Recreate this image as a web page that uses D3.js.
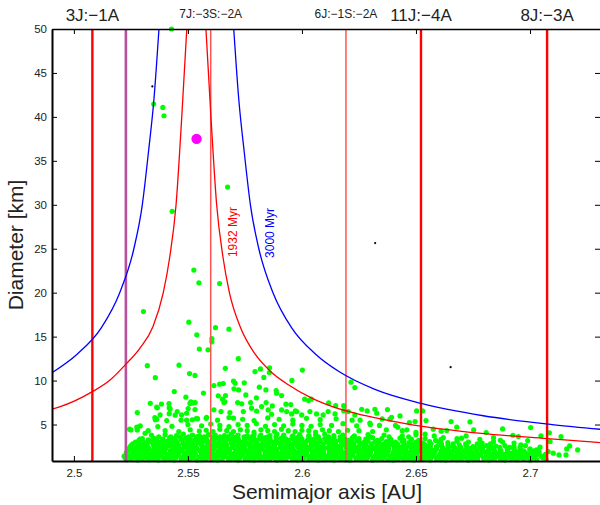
<!DOCTYPE html>
<html>
<head>
<meta charset="utf-8">
<script src="https://cdn.jsdelivr.net/npm/d3@7"></script>
<style>
  body { margin: 0; background: #fff; }
  text { font-family: "Liberation Sans", Arial, Helvetica, sans-serif; }
</style>
</head>
<body>
<svg id="chart" width="600" height="505"></svg>
<script>
// axis ticks
const xTicks = [2.5, 2.55, 2.6, 2.65, 2.7];
const yTicks = [5, 10, 15, 20, 25, 30, 35, 40, 45, 50];

// mean motion resonances (semimajor axis in AU)
const resonanceNames = ["3J:\u22121A", "", "7J:\u22123S:\u22122A", "6J:\u22121S:\u22122A", "11J:\u22124A", "8J:\u22123A"];
const resonanceA = [2.5081, 2.5228, 2.5600, 2.6193, 2.6522, 2.7075];
const resonanceKind = ["strong", "other", "weak", "weak", "strong", "strong"];

// V-shape curves [a, D], one array per branch
const vLeft1932 = [[2.4904, 6.74], [2.4937, 7.0], [2.5079, 8.71], [2.5160, 10.1], [2.5228, 11.87], [2.5290, 13.7], [2.5347, 16.15], [2.5392, 20.0], [2.5420, 24.0], [2.5448, 30.0], [2.5473, 40.0], [2.5495, 50.0]];
const vRight1932 = [[2.5579, 50], [2.5601, 40], [2.5626, 30], [2.5654, 24], [2.5682, 20], [2.5731, 16], [2.5795, 13], [2.5860, 11.1], [2.5942, 9.5], [2.6043, 8.0], [2.6137, 7.0], [2.6279, 6.0], [2.6477, 5.0], [2.6787, 4.0], [2.7077, 3.4], [2.7307, 2.95]];
const vLeft3000 = [[2.4904, 10.9], [2.5014, 13.0], [2.5120, 16.0], [2.5201, 20.0], [2.5263, 25.0], [2.5300, 30.0], [2.5327, 36.0], [2.5351, 42.0], [2.5373, 50.0]];
const vRight3000 = [[2.5701, 50], [2.5723, 42], [2.5747, 36], [2.5774, 30], [2.5811, 25], [2.5873, 20], [2.5955, 16], [2.6060, 13], [2.6164, 11], [2.6320, 9], [2.6523, 7.4], [2.6795, 6], [2.7097, 5], [2.7312, 4.45]];
const ageLabels = ["1932 Myr", "3000 Myr"];
const ageLabelAt = [[2.5715, 26.9], [2.5877, 26.8]];

// family members [a, D]: dense core, halo, large members
const familyCore = [
  [2.523,1.0],[2.525,1.1],[2.528,0.95],[2.530,1.05],[2.533,1.0],[2.535,1.1],[2.537,0.95],[2.540,1.0],[2.542,1.1],[2.544,0.95],[2.547,1.05],[2.549,1.0],[2.551,1.1],[2.554,0.95],[2.556,1.0],[2.558,1.1],[2.561,1.0],[2.563,0.95],[2.565,1.1],[2.568,1.0],[2.570,1.05],[2.572,0.95],[2.575,1.1],[2.577,1.0],[2.579,0.95],[2.582,1.05],[2.584,1.0],[2.586,1.1],[2.589,0.95],[2.591,1.0],[2.593,1.1],[2.596,1.0],[2.598,0.95],[2.600,1.05],[2.603,1.0],[2.605,1.1],[2.607,0.95],[2.610,1.0],[2.612,1.05],[2.614,0.95],[2.617,1.1],[2.619,1.0],[2.621,0.95],[2.624,1.05],[2.626,1.0],[2.628,1.1],[2.631,0.95],[2.633,1.0],[2.635,1.1],[2.638,1.0],[2.640,0.95],[2.642,1.05],[2.645,1.0],[2.647,1.1],[2.649,0.95],[2.652,1.0],[2.654,1.05],[2.656,0.95],[2.659,1.1],[2.661,1.0],[2.663,0.95],[2.666,1.05],[2.668,1.0],[2.670,1.1],[2.673,0.95],[2.675,1.0],[2.677,1.05],[2.680,1.0],[2.682,0.95],[2.684,1.1],[2.687,1.0],[2.689,0.95],[2.692,1.05],[2.694,1.0],[2.697,1.1],[2.700,0.95],[2.703,1.0],[2.707,1.05],
  [2.522,1.4],[2.524,1.35],[2.527,1.45],[2.529,1.3],[2.531,1.4],[2.534,1.5],[2.536,1.35],[2.538,1.4],[2.541,1.3],[2.543,1.45],[2.545,1.4],[2.548,1.35],[2.550,1.5],[2.552,1.4],[2.555,1.3],[2.557,1.45],[2.559,1.4],[2.562,1.35],[2.564,1.5],[2.566,1.4],[2.569,1.3],[2.571,1.45],[2.573,1.4],[2.576,1.35],[2.578,1.5],[2.580,1.4],[2.583,1.3],[2.585,1.45],[2.587,1.35],[2.590,1.4],[2.592,1.5],[2.594,1.35],[2.597,1.4],[2.599,1.3],[2.601,1.45],[2.604,1.4],[2.606,1.35],[2.608,1.5],[2.611,1.4],[2.613,1.3],[2.615,1.45],[2.618,1.4],[2.620,1.35],[2.622,1.5],[2.625,1.4],[2.627,1.3],[2.629,1.45],[2.632,1.35],[2.634,1.4],[2.636,1.5],[2.639,1.4],[2.641,1.3],[2.643,1.45],[2.646,1.4],[2.648,1.35],[2.650,1.5],[2.653,1.4],[2.655,1.3],[2.657,1.45],[2.660,1.4],[2.662,1.35],[2.664,1.5],[2.667,1.4],[2.669,1.3],[2.671,1.45],[2.674,1.4],[2.676,1.35],[2.678,1.5],[2.681,1.4],[2.683,1.3],[2.686,1.45],[2.688,1.4],[2.691,1.35],[2.693,1.5],[2.696,1.4],[2.699,1.3],[2.702,1.45],[2.705,1.4],
  [2.523,1.8],[2.526,1.75],[2.528,1.85],[2.530,1.7],[2.532,1.8],[2.535,1.9],[2.537,1.75],[2.539,1.8],[2.542,1.7],[2.544,1.85],[2.546,1.8],[2.549,1.75],[2.551,1.9],[2.553,1.8],[2.556,1.7],[2.558,1.85],[2.560,1.8],[2.563,1.75],[2.565,1.9],[2.567,1.8],[2.570,1.7],[2.572,1.85],[2.574,1.8],[2.577,1.75],[2.579,1.9],[2.581,1.8],[2.584,1.7],[2.586,1.85],[2.588,1.75],[2.591,1.8],[2.593,1.9],[2.595,1.75],[2.598,1.8],[2.600,1.7],[2.602,1.85],[2.605,1.8],[2.607,1.75],[2.609,1.9],[2.612,1.8],[2.614,1.7],[2.616,1.85],[2.619,1.8],[2.621,1.75],[2.623,1.9],[2.626,1.8],[2.628,1.7],[2.630,1.85],[2.633,1.75],[2.635,1.8],[2.637,1.9],[2.640,1.8],[2.642,1.7],[2.644,1.85],[2.647,1.8],[2.649,1.75],[2.651,1.9],[2.654,1.8],[2.656,1.7],[2.658,1.85],[2.661,1.8],[2.663,1.75],[2.665,1.9],[2.668,1.8],[2.670,1.7],[2.672,1.85],[2.675,1.8],[2.677,1.75],[2.680,1.9],[2.682,1.8],[2.685,1.7],[2.687,1.85],[2.690,1.8],[2.692,1.75],[2.695,1.9],[2.698,1.8],[2.701,1.7],[2.704,1.85],
  [2.524,2.2],[2.526,2.15],[2.529,2.25],[2.531,2.1],[2.533,2.2],[2.536,2.3],[2.538,2.15],[2.540,2.2],[2.543,2.1],[2.545,2.25],[2.547,2.2],[2.550,2.15],[2.552,2.3],[2.554,2.2],[2.557,2.1],[2.559,2.25],[2.561,2.2],[2.564,2.15],[2.566,2.3],[2.568,2.2],[2.571,2.1],[2.573,2.25],[2.575,2.2],[2.578,2.15],[2.580,2.3],[2.582,2.2],[2.585,2.1],[2.587,2.25],[2.589,2.15],[2.592,2.2],[2.594,2.3],[2.596,2.15],[2.599,2.2],[2.601,2.1],[2.603,2.25],[2.606,2.2],[2.608,2.15],[2.610,2.3],[2.613,2.2],[2.615,2.1],[2.617,2.25],[2.620,2.2],[2.622,2.15],[2.624,2.3],[2.627,2.2],[2.629,2.1],[2.631,2.25],[2.634,2.15],[2.636,2.2],[2.638,2.3],[2.641,2.2],[2.643,2.1],[2.645,2.25],[2.648,2.2],[2.650,2.15],[2.652,2.3],[2.655,2.2],[2.657,2.1],[2.659,2.25],[2.662,2.2],[2.664,2.15],[2.667,2.3],[2.669,2.2],[2.672,2.1],[2.674,2.25],[2.677,2.2],[2.679,2.15],[2.682,2.3],[2.684,2.2],[2.687,2.1],[2.690,2.25],[2.693,2.2],[2.696,2.1],[2.700,2.2],
  [2.525,2.6],[2.528,2.55],[2.530,2.65],[2.532,2.5],[2.535,2.6],[2.537,2.7],[2.539,2.55],[2.542,2.6],[2.544,2.5],[2.546,2.65],[2.549,2.6],[2.551,2.55],[2.553,2.7],[2.556,2.6],[2.558,2.5],[2.560,2.65],[2.563,2.6],[2.565,2.55],[2.567,2.7],[2.570,2.6],[2.572,2.5],[2.574,2.65],[2.577,2.6],[2.579,2.55],[2.581,2.7],[2.584,2.6],[2.586,2.5],[2.588,2.65],[2.591,2.55],[2.593,2.6],[2.595,2.7],[2.598,2.55],[2.600,2.6],[2.602,2.5],[2.605,2.65],[2.607,2.6],[2.609,2.55],[2.612,2.7],[2.614,2.6],[2.616,2.5],[2.619,2.65],[2.621,2.6],[2.623,2.55],[2.626,2.7],[2.628,2.6],[2.630,2.5],[2.633,2.65],[2.635,2.55],[2.637,2.6],[2.640,2.7],[2.642,2.6],[2.644,2.5],[2.647,2.65],[2.649,2.6],[2.651,2.55],[2.654,2.7],[2.656,2.6],[2.659,2.5],[2.661,2.65],[2.664,2.6],[2.666,2.55],[2.669,2.7],[2.672,2.6],[2.675,2.5],[2.678,2.65],[2.681,2.6],[2.685,2.55],[2.689,2.6],[2.693,2.5],[2.698,2.6],
  [2.527,3.0],[2.531,2.95],[2.534,3.05],[2.536,2.9],[2.538,3.0],[2.541,3.1],[2.543,2.95],[2.545,3.0],[2.548,2.9],[2.550,3.05],[2.552,3.0],[2.555,2.95],[2.557,3.1],[2.559,3.0],[2.562,2.9],[2.564,3.05],[2.566,3.0],[2.569,2.95],[2.571,3.1],[2.573,3.0],[2.576,2.9],[2.578,3.05],[2.580,3.0],[2.583,2.95],[2.585,3.1],[2.587,3.0],[2.590,2.9],[2.592,3.05],[2.594,2.95],[2.597,3.0],[2.599,3.1],[2.601,2.95],[2.604,3.0],[2.606,2.9],[2.608,3.05],[2.611,3.0],[2.613,2.95],[2.615,3.1],[2.618,3.0],[2.620,2.9],[2.622,3.05],[2.625,3.0],[2.627,2.95],[2.629,3.1],[2.632,3.0],[2.634,2.9],[2.637,3.05],[2.639,2.95],[2.641,3.0],[2.644,3.1],[2.647,2.95],[2.650,3.0],[2.653,2.9],[2.656,3.05],[2.660,3.0],[2.664,2.95],[2.668,3.1],[2.673,3.0],[2.679,2.9],[2.684,3.05],[2.688,3.0],
  [2.530,3.4],[2.535,3.45],[2.539,3.35],[2.542,3.5],[2.544,3.4],[2.547,3.3],[2.549,3.45],[2.551,3.4],[2.554,3.35],[2.556,3.5],[2.558,3.4],[2.561,3.3],[2.563,3.45],[2.565,3.4],[2.568,3.35],[2.570,3.5],[2.572,3.4],[2.575,3.3],[2.577,3.45],[2.579,3.4],[2.582,3.35],[2.584,3.5],[2.586,3.4],[2.589,3.3],[2.591,3.45],[2.593,3.35],[2.596,3.4],[2.598,3.5],[2.600,3.35],[2.603,3.4],[2.605,3.3],[2.607,3.45],[2.610,3.4],[2.612,3.35],[2.614,3.5],[2.617,3.4],[2.619,3.3],[2.622,3.45],[2.625,3.4],[2.628,3.35],[2.631,3.5],[2.635,3.4],[2.639,3.3],[2.643,3.45],[2.648,3.35],[2.654,3.4],[2.661,3.3],[2.670,3.45],
  [2.534,3.8],[2.540,3.85],[2.545,3.75],[2.548,3.9],[2.552,3.8],[2.555,3.7],[2.559,3.85],[2.562,3.8],[2.566,3.75],[2.569,3.9],[2.572,3.8],[2.576,3.7],[2.579,3.85],[2.582,3.8],[2.586,3.75],[2.589,3.9],[2.592,3.8],[2.596,3.7],[2.599,3.85],[2.603,3.75],[2.606,3.8],[2.610,3.9],[2.614,3.75],[2.618,3.8],[2.623,3.7],[2.629,3.85],[2.636,3.8],[2.644,3.7],[2.650,3.85]
];
// in-between layers of the dense core: one diameter per layer, semimajor axes per layer
const coreLayerD = [1.2, 1.6, 2.0, 2.4, 2.8, 3.2, 3.6];
const coreLayerA = [
  [2.5225,2.5262,2.5288,2.5318,2.5341,2.5367,2.5392,2.5421,2.5446,2.5473,2.5497,2.5524,2.5549,2.5571,2.5598,2.5624,2.5652,2.5676,2.5703,2.5727,2.5754,2.5781,2.5806,2.5828,2.5855,2.5879,2.5906,2.5931,2.5957,2.5982,2.6008,2.6033,2.6059,2.6083,2.6107,2.6134,2.6158,2.6183,2.6211,2.6236,2.6262,2.6287,2.6312,2.6338,2.6361,2.6388,2.6414,2.6437,2.6463,2.6488,2.6515,2.6539,2.6566,2.6592,2.6617,2.6641,2.6668,2.6693,2.6718,2.6744,2.6769,2.6796,2.6821,2.6847,2.6872,2.6898,2.6924,2.6951,2.6979,2.7013,2.7058],
  [2.5232,2.5255,2.5279,2.5306,2.5332,2.5355,2.5382,2.5408,2.5431,2.5458,2.5484,2.5507,2.5533,2.5561,2.5584,2.5611,2.5636,2.5661,2.5688,2.5712,2.5739,2.5763,2.5791,2.5815,2.5841,2.5866,2.5892,2.5917,2.5943,2.5968,2.5994,2.6019,2.6045,2.6071,2.6096,2.6121,2.6147,2.6172,2.6198,2.6223,2.6249,2.6274,2.6299,2.6325,2.6351,2.6376,2.6401,2.6427,2.6452,2.6478,2.6503,2.6529,2.6554,2.6579,2.6605,2.6631,2.6656,2.6681,2.6707,2.6732,2.6758,2.6783,2.6809,2.6834,2.6861,2.6887,2.6913,2.6941,2.6968,2.6996,2.7031,2.7068],
  [2.5238,2.5266,2.5293,2.5318,2.5344,2.5371,2.5396,2.5423,2.5448,2.5475,2.5501,2.5526,2.5553,2.5578,2.5605,2.5631,2.5656,2.5682,2.5708,2.5734,2.5759,2.5786,2.5811,2.5837,2.5863,2.5888,2.5915,2.5941,2.5966,2.5992,2.6017,2.6044,2.6069,2.6095,2.6121,2.6146,2.6172,2.6198,2.6224,2.6249,2.6275,2.6301,2.6327,2.6352,2.6378,2.6404,2.6429,2.6456,2.6481,2.6507,2.6533,2.6558,2.6584,2.6611,2.6636,2.6662,2.6688,2.6713,2.6739,2.6766,2.6792,2.6818,2.6845,2.6873,2.6902,2.6935,2.6972,2.7018],
  [2.5245,2.5272,2.5299,2.5326,2.5352,2.5379,2.5405,2.5432,2.5458,2.5484,2.5511,2.5537,2.5564,2.5590,2.5616,2.5643,2.5669,2.5695,2.5722,2.5748,2.5774,2.5801,2.5827,2.5853,2.5879,2.5906,2.5932,2.5958,2.5985,2.6011,2.6037,2.6064,2.6090,2.6116,2.6142,2.6169,2.6195,2.6221,2.6248,2.6274,2.6300,2.6326,2.6353,2.6379,2.6405,2.6432,2.6458,2.6484,2.6511,2.6537,2.6563,2.6590,2.6616,2.6642,2.6669,2.6697,2.6726,2.6757,2.6792,2.6828,2.6867,2.6911,2.6956],
  [2.5258,2.5292,2.5321,2.5347,2.5374,2.5401,2.5427,2.5454,2.5481,2.5507,2.5534,2.5561,2.5587,2.5614,2.5641,2.5667,2.5694,2.5721,2.5747,2.5774,2.5801,2.5827,2.5854,2.5881,2.5907,2.5934,2.5961,2.5987,2.6014,2.6041,2.6067,2.6094,2.6121,2.6147,2.6174,2.6201,2.6227,2.6254,2.6281,2.6307,2.6334,2.6361,2.6389,2.6418,2.6449,2.6483,2.6521,2.6566,2.6612,2.6663,2.6718,2.6769,2.6827],
  [2.5285,2.5328,2.5362,2.5391,2.5419,2.5447,2.5474,2.5502,2.5529,2.5557,2.5584,2.5612,2.5639,2.5667,2.5694,2.5722,2.5749,2.5777,2.5804,2.5832,2.5859,2.5887,2.5914,2.5942,2.5969,2.5997,2.6024,2.6052,2.6079,2.6108,2.6138,2.6169,2.6203,2.6241,2.6283,2.6331,2.6386,2.6447,2.6512,2.6586],
  [2.5372,2.5425,2.5466,2.5503,2.5538,2.5572,2.5606,2.5641,2.5676,2.5711,2.5746,2.5781,2.5815,2.5851,2.5886,2.5921,2.5957,2.5993,2.6031,2.6072,2.6117,2.6168,2.6226,2.6297,2.6382,2.6468]
];
const familyHalo = [
  [2.540,4.3],[2.546,4.2],[2.551,4.4],[2.555,4.25],[2.558,4.35],[2.561,4.2],[2.564,4.45],[2.567,4.3],[2.570,4.2],[2.573,4.4],[2.576,4.3],[2.579,4.15],[2.582,4.4],[2.585,4.3],[2.588,4.2],[2.591,4.45],[2.594,4.3],[2.597,4.2],[2.600,4.35],[2.603,4.3],[2.606,4.15],[2.609,4.4],[2.612,4.3],[2.616,4.2],[2.620,4.35],[2.625,4.3],[2.631,4.2],[2.637,4.4],[2.644,4.3],
  [2.543,4.8],[2.550,5.0],[2.556,4.85],[2.560,5.05],[2.564,4.9],[2.568,4.75],[2.572,5.0],[2.576,4.9],[2.580,5.1],[2.584,4.8],[2.588,5.0],[2.592,4.85],[2.596,5.05],[2.600,4.9],[2.604,4.8],[2.608,5.0],[2.613,4.9],[2.618,5.1],[2.624,4.85],[2.630,5.0],[2.641,4.9],
  [2.547,5.5],[2.558,5.7],[2.563,5.5],[2.568,5.8],[2.574,5.6],[2.579,5.45],[2.585,5.75],[2.590,5.6],[2.596,5.5],[2.602,5.7],[2.608,5.55],[2.615,5.65],[2.622,5.5],
  [2.6255,5.5],[2.6340,4.9],[2.6420,4.7],[2.6460,4.4],[2.6500,4.1],[2.6540,3.9],[2.6580,3.7],[2.6620,3.5],[2.6680,3.4],[2.6720,3.7],[2.6780,3.3],[2.6840,3.5],[2.6870,3.2],[2.6930,2.9],[2.6960,2.7],
  [2.5722,8.94],[2.5813,9.25],[2.5842,8.94],[2.5887,8.86],[2.5889,8.57],[2.5911,8.29],[2.5754,8.37],[2.5440,8.75],[2.5568,8.58],[2.5491,8.11],[2.5513,7.58],[2.5532,7.50],[2.5335,7.41],[2.5384,7.33],[2.5417,7.38],[2.5422,6.78],[2.5363,6.97],[2.5278,6.36],[2.5633,8.26],[2.5665,8.29],[2.5652,7.88],[2.5658,7.50],[2.5718,7.50],[2.5736,7.35],[2.5775,7.50],[2.5800,8.03],[2.5843,7.50],[2.5870,7.12],[2.5930,7.31],[2.5951,7.27],[2.5971,6.55],[2.6012,7.88],[2.6029,7.72],[2.6041,7.88],[2.6117,7.46],[2.6148,7.15],[2.6183,7.15],[2.6183,6.58],[2.6262,6.74],[2.6286,6.55],[2.6320,6.74],[2.6328,6.29],[2.6375,6.70],[2.6393,5.83],[2.6430,5.98],[2.6496,5.33],[2.6503,6.55],[2.6529,6.55],[2.6544,5.45],[2.6298,5.15],[2.6352,5.64],[2.6386,5.61],[2.6471,5.22],[2.6654,5.33],[2.6737,5.30],[2.6679,4.70],[2.6635,4.31],[2.6576,4.47],[2.6610,4.24],[2.6753,4.39],[2.6808,4.08],[2.6880,4.50],[2.7003,4.65],[2.6925,3.78],[2.6949,3.63],[2.7048,3.71],[2.7085,4.05],[2.7136,3.63],[2.7174,2.57],[2.7161,2.22],[2.7209,2.11],[2.7127,1.54],[2.7158,1.54],[2.7102,1.74],[2.7080,1.92],[2.6990,3.17],[2.7000,2.19],[2.7029,2.11],[2.7044,2.42],[2.7088,3.06],
  [2.5536,5.67],[2.5582,5.83],[2.5501,6.81],[2.5522,7.46],[2.5244,4.47],[2.5250,4.39],[2.5291,4.84],[2.5276,4.70],[2.5355,5.79],[2.5363,5.61],[2.5418,6.24],[2.5444,6.06],[2.5472,6.10],[2.5494,5.49],[2.5519,5.53],[2.5542,5.67],[2.5614,6.67],[2.5645,6.47],[2.5662,7.58],[2.5684,6.36],[2.5700,5.72],[2.5743,6.47],[2.5779,6.86],[2.5801,6.52],[2.5823,7.04],[2.5852,6.66],[2.5867,6.17],[2.5911,6.66],[2.5933,6.47],[2.5955,6.21],[2.5977,6.47],[2.5999,6.09],[2.6035,6.47],[2.6064,6.21],[2.6093,6.09],[2.6115,6.47],[2.6145,6.21],[2.6203,6.47],[2.6232,6.09],
  [2.5312,4.0],[2.5326,4.3],[2.5290,3.33],[2.5326,3.25],[2.5278,4.39],[2.5366,6.9],[2.5418,6.9],[2.5378,6.1],[2.5407,5.45],[2.5453,6.47],[2.5357,5.53],[2.5368,4.77],[2.5494,6.28],[2.5509,7.4],[2.5531,6.7]
];
const familyLarge = [
  [2.5428,50.0],[2.5350,41.46],[2.5390,41.08],[2.5395,40.13],[2.5674,32.01],[2.5431,29.26],[2.5526,22.57],[2.5548,21.12],[2.5639,21.04],[2.5305,17.85],[2.5504,16.65],[2.5539,15.20],[2.5621,16.02],[2.5680,15.85],[2.5605,14.77],[2.5605,14.41],[2.5550,13.59],[2.5588,13.50],[2.5721,12.49],[2.5322,11.70],[2.5461,11.75],[2.5507,10.80],[2.5531,10.59],[2.5357,10.33],[2.5664,11.39],[2.5794,11.02],[2.5818,11.33],[2.5858,11.45],[2.5857,10.91],[2.5833,10.36],[2.6002,11.20],[2.5956,10.02],[2.6215,9.82],[2.6232,9.20],[2.5614,9.43],[2.5639,9.59],[2.5655,9.66],[2.5700,9.93],[2.5707,9.70],[2.5747,9.74],[2.5702,9.06]
];
const parentBody = [[2.5538, 37.5]];
const interlopers = [[2.5344, 43.47], [2.6321, 25.64], [2.6652, 11.53]];

const svg = d3.select("#chart");
const plotLeft = 52, plotRight = 600, plotTop = 29, plotBottom = 461;

const x = d3.scaleLinear().domain([2.4904, 2.7307]).range([plotLeft, plotRight]);
const y = d3.scaleLinear().domain([0.85, 50]).range([plotBottom, plotTop]);

svg.append("defs").append("clipPath").attr("id", "plotClip")
  .append("rect").attr("x", plotLeft).attr("y", plotTop)
  .attr("width", plotRight - plotLeft).attr("height", plotBottom - plotTop);

// family members
const coreLayers = coreLayerA.flatMap((row, i) => row.map(a => [a, coreLayerD[i]]));
const greenDots = familyCore.concat(coreLayers, familyHalo, familyLarge);
svg.append("g").selectAll("circle")
  .data(greenDots)
  .enter().append("circle")
  .attr("cx", d => x(d[0]))
  .attr("cy", d => y(d[1]))
  .attr("r", 2.6)
  .attr("fill", "#00ff00");

// resonance lines
const lineColor = { strong: "#ff0000", weak: "#ff5252", other: "#b8509c" };
const lineWidth = { strong: 2.4, weak: 1.5, other: 2.6 };
svg.append("g").selectAll("line")
  .data(resonanceA)
  .enter().append("line")
  .attr("x1", d => x(d)).attr("x2", d => x(d))
  .attr("y1", plotTop).attr("y2", plotBottom)
  .attr("stroke", (d, i) => lineColor[resonanceKind[i]])
  .attr("stroke-width", (d, i) => lineWidth[resonanceKind[i]]);

// V-shape curves
const vLine = d3.line()
  .x(d => x(d[0]))
  .y(d => y(d[1]))
  .curve(d3.curveMonotoneX);

const curves = svg.append("g").attr("clip-path", "url(#plotClip)");
[[vLeft1932, "#ff0000"], [vRight1932, "#ff0000"], [vLeft3000, "#0000ff"], [vRight3000, "#0000ff"]]
  .forEach(c => {
    curves.append("path")
      .attr("d", vLine(c[0]))
      .attr("fill", "none")
      .attr("stroke", c[1])
      .attr("stroke-width", 1.3);
  });

// age labels
svg.selectAll(".age")
  .data(ageLabels)
  .enter().append("text")
  .attr("class", "age")
  .attr("transform", (d, i) => `translate(${x(ageLabelAt[i][0])},${y(ageLabelAt[i][1])}) rotate(-90)`)
  .attr("text-anchor", "middle")
  .attr("font-size", "12px")
  .attr("fill", (d, i) => i === 0 ? "#ff0000" : "#0000ff")
  .text(d => d);

// interlopers and parent body
svg.append("g").selectAll("circle")
  .data(interlopers)
  .enter().append("circle")
  .attr("cx", d => x(d[0]))
  .attr("cy", d => y(d[1]))
  .attr("r", 1.1)
  .attr("fill", "#000");

svg.append("g").selectAll("circle")
  .data(parentBody)
  .enter().append("circle")
  .attr("cx", d => x(d[0]))
  .attr("cy", d => y(d[1]))
  .attr("r", 5.2)
  .attr("fill", "#ff00ff");

// axes
const gBottom = svg.append("g").attr("transform", `translate(0,${plotBottom})`)
  .call(d3.axisBottom(x).tickValues(xTicks).tickSize(-5).tickSizeOuter(0).tickPadding(8).tickFormat(d => String(d)));
const gLeft = svg.append("g").attr("transform", `translate(${plotLeft},0)`)
  .call(d3.axisLeft(y).tickValues(yTicks).tickSize(-5).tickSizeOuter(0).tickPadding(5));
const gTop = svg.append("g").attr("transform", `translate(0,${plotTop})`)
  .call(d3.axisTop(x).tickValues(xTicks).tickSize(-5).tickSizeOuter(0).tickFormat(""));
const gRight = svg.append("g").attr("transform", `translate(${plotRight},0)`)
  .call(d3.axisRight(y).tickValues(yTicks).tickSize(-5).tickSizeOuter(0).tickFormat(""));
gRight.select(".domain").remove();

gBottom.select(".domain").attr("stroke-width", 2);
gLeft.select(".domain").attr("stroke-width", 2);
gTop.select(".domain").attr("stroke-width", 1.5);
[gBottom, gLeft].forEach(g => g.selectAll("text")
  .attr("font-size", "11.5px")
  .attr("font-family", '"Liberation Sans", Arial, Helvetica, sans-serif')
  .attr("fill", "#222"));

// resonance names above the frame
svg.append("g").selectAll("text")
  .data(resonanceNames)
  .enter().append("text")
  .attr("x", (d, i) => x(resonanceA[i]))
  .attr("y", (d, i) => resonanceKind[i] === "strong" ? 20.5 : 18)
  .attr("text-anchor", "middle")
  .attr("font-size", (d, i) => resonanceKind[i] === "strong" ? "17px" : "12px")
  .attr("fill", "#222")
  .text(d => d);

// axis titles
svg.append("text")
  .attr("x", 327).attr("y", 499)
  .attr("text-anchor", "middle")
  .attr("font-size", "21px")
  .attr("fill", "#222")
  .text("Semimajor axis [AU]");

svg.append("text")
  .attr("transform", "translate(23,245) rotate(-90)")
  .attr("text-anchor", "middle")
  .attr("font-size", "21px")
  .attr("fill", "#222")
  .text("Diameter [km]");
</script>
</body>
</html>
